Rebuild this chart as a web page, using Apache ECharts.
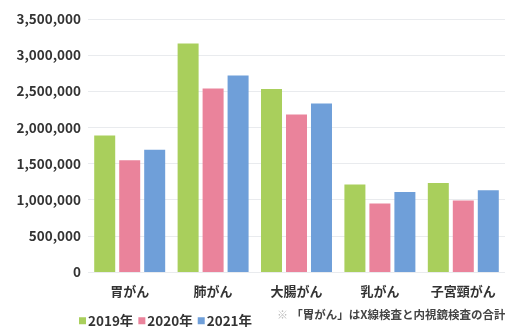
<!DOCTYPE html>
<html>
<head>
<meta charset="utf-8">
<script src="https://cdn.jsdelivr.net/npm/echarts@6/dist/echarts.min.js"></script>
<style>
  html, body { margin: 0; padding: 0; background: #fff; }
  #chart { width: 505px; height: 327px; }
</style>
</head>
<body>
<div id="chart"></div>
<script>
// がん検診 受診者数（部位別・年度別）
const categories = ['胃がん', '肺がん', '大腸がん', '乳がん', '子宮頸がん'];
const seriesNames = ['2019年', '2020年', '2021年'];
const values2019 = [1890000, 3160000, 2530000, 1210000, 1230000];
const values2020 = [1545000, 2540000, 2180000, 946000, 990000];
const values2021 = [1690000, 2720000, 2330000, 1106000, 1130000];
const yTicks = [0, 500000, 1000000, 1500000, 2000000, 2500000, 3000000, 3500000];
const noteText = '「胃がん」はX線検査と内視鏡検査の合計';

const colors = ['#a9cf5c', '#ea839b', '#6f9fd9'];
const font = '"Noto Sans CJK JP", "Noto Sans", sans-serif';

const chart = echarts.init(document.getElementById('chart'), null, { renderer: 'canvas' });

const seriesValues = [values2019, values2020, values2021];

chart.setOption({
  animation: false,
  textStyle: { fontFamily: font },
  grid: { left: 88, right: -6, top: 19, bottom: 55, containLabel: false },
  legend: {
    data: seriesNames,
    left: 74,
    top: 309,
    itemWidth: 7,
    itemHeight: 7,
    itemGap: 5,
    icon: 'rect',
    textStyle: { fontFamily: font, fontSize: 13.5, fontWeight: 'bold', color: '#333', padding: [0, 0, 0, -3] }
  },
  xAxis: {
    type: 'category',
    data: categories,
    axisLine: { show: false },
    axisTick: { show: false },
    axisLabel: { interval: 0, fontFamily: font, fontSize: 13, fontWeight: 'bold', color: '#333', margin: 13 }
  },
  yAxis: {
    type: 'value',
    min: yTicks[0],
    max: yTicks[yTicks.length - 1],
    interval: yTicks[1] - yTicks[0],
    axisLine: { show: false },
    axisTick: { show: false },
    splitLine: { lineStyle: { color: '#e9ebee', width: 1 } },
    axisLabel: {
      fontFamily: font, fontSize: 13.5, fontWeight: 'bold', color: '#333', margin: 7,
      formatter: v => v.toLocaleString('en-US')
    }
  },
  graphic: [{
    type: 'text',
    left: 277,
    top: 309,
    style: {
      text: '{m|※} {t|' + noteText + '}',
      rich: {
        m: { fontFamily: font, fontSize: 11, fill: '#bbb' },
        t: { fontFamily: font, fontSize: 11.5, fontWeight: 'bold', fill: '#444' }
      }
    }
  }],
  series: seriesNames.map((name, i) => ({
    name: name,
    type: 'bar',
    data: seriesValues[i],
    barWidth: 21,
    barGap: '19%',
    itemStyle: { color: colors[i] }
  }))
});
</script>
</body>
</html>
